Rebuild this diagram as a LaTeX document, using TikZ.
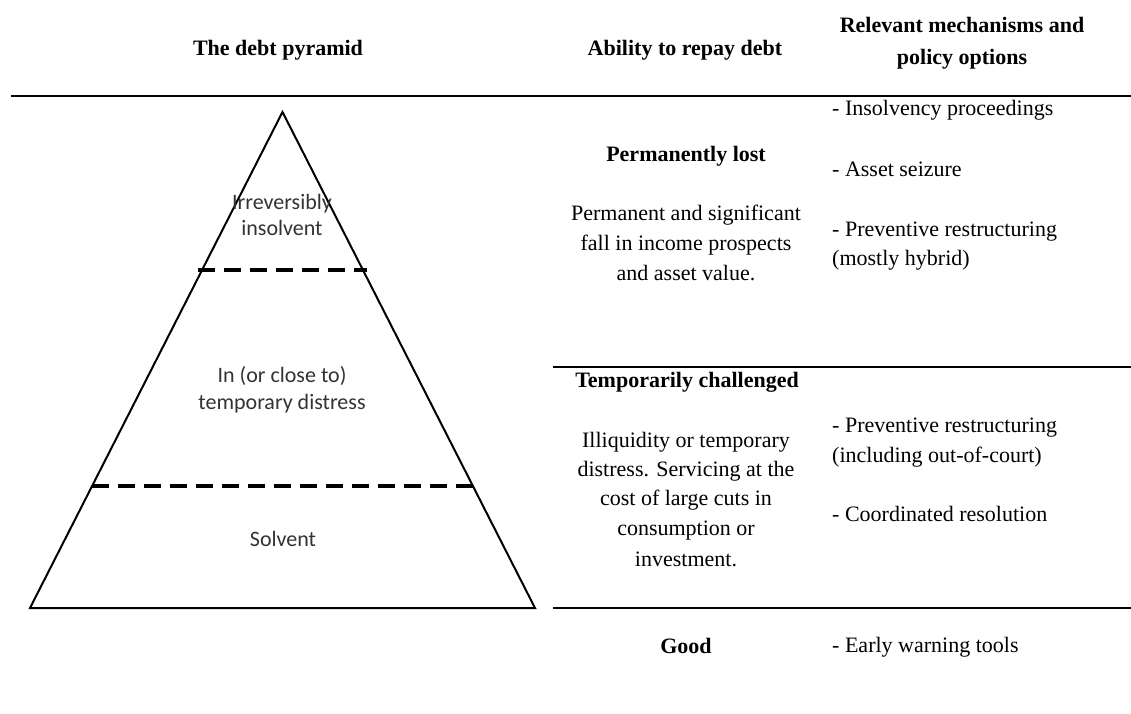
\documentclass[tikz,border=0pt]{standalone}
\usepackage{fontspec}
\setmainfont{Liberation Serif}
\newfontfamily\pyrfont{Carlito}
\begin{document}
\begin{tikzpicture}[x=1pt,y=-1pt,
  hdr/.style={font=\fontsize{22}{26}\selectfont\bfseries, anchor=mid, inner sep=0pt},
  body/.style={font=\fontsize{22}{26}\selectfont, anchor=mid, inner sep=0pt},
  item/.style={font=\fontsize{22}{26}\selectfont, anchor=mid west, inner sep=0pt},
  pyr/.style={font=\pyrfont\fontsize{22}{26}\selectfont, text=black!80, anchor=mid, inner sep=0pt},
  toprule/.style={line width=1.5pt},
  rowrule/.style={line width=2.5pt},
  edge/.style={line width=2pt, line join=miter},
  cut/.style={line width=4pt, dash pattern=on 17pt off 9pt}]
\fill[white] (0,0) rectangle (1131,713);
\useasboundingbox (0,0) rectangle (1131,713);

% column headers
\node[hdr] (h1) at (278,53) {The debt pyramid};
\node[hdr] (h2) at (685,53) {Ability to repay debt};
\node[hdr] (h3a) at (962,30) {Relevant mechanisms and};
\node[hdr] (h3b) at (962,62) {policy options};

% horizontal rules
\coordinate (t0) at (11,96);   \coordinate (t1) at (1131,96);
\coordinate (m0) at (553,367); \coordinate (m1) at (1131,367);
\coordinate (b0) at (553,608); \coordinate (b1) at (1131,608);
\draw[toprule] (t0) -- (t1);
\draw[rowrule] (m0) -- (m1);
\draw[rowrule] (b0) -- (b1);

% the pyramid
\coordinate (apex) at (282.5,112);
\coordinate (bl) at (30,608);
\coordinate (br) at (535,608);
\draw[edge] (apex) -- (br) -- (bl) -- cycle;
\coordinate (d1l) at (198,270); \coordinate (d1r) at (367,270);
\coordinate (d2l) at (92,486);  \coordinate (d2r) at (473,486);
\draw[cut] (d1l) -- (d1r);
\draw[cut] (d2l) -- (d2r);

\node[pyr] (p1a) at (282,207) {Irreversibly};
\node[pyr] (p1b) at (282,233) {insolvent};
\node[pyr] (p2a) at (282,380) {In (or close to)};
\node[pyr] (p2b) at (282,407) {temporary distress};
\node[pyr] (p3)  at (283,544) {Solvent};

% ability to repay debt
\node[hdr] (a1) at (686,159) {Permanently lost};
\node[body] (a1a) at (686,218) {Permanent and significant};
\node[body] (a1b) at (686,248) {fall in income prospects};
\node[body] (a1c) at (686,278) {and asset value.};
\node[hdr] (a2) at (687,385) {Temporarily challenged};
\node[body] (a2a) at (686,445) {Illiquidity or temporary};
\node[body] (a2b) at (686,474) {distress. Servicing at the};
\node[body] (a2c) at (686,503) {cost of large cuts in};
\node[body] (a2d) at (686,533) {consumption or};
\node[body] (a2e) at (686,564) {investment.};
\node[hdr] (a3) at (686,651) {Good};

% mechanisms and policy options
\node[item] (r1) at (832,113) {- Insolvency proceedings};
\node[item] (r2) at (832,174) {- Asset seizure};
\node[item] (r3a) at (832,234) {- Preventive restructuring};
\node[item] (r3b) at (832,263) {(mostly hybrid)};
\node[item] (r4a) at (832,430) {- Preventive restructuring};
\node[item] (r4b) at (832,460) {(including out-of-court)};
\node[item] (r5) at (832,519) {- Coordinated resolution};
\node[item] (r6) at (832,650) {- Early warning tools};
\end{tikzpicture}
\end{document}
